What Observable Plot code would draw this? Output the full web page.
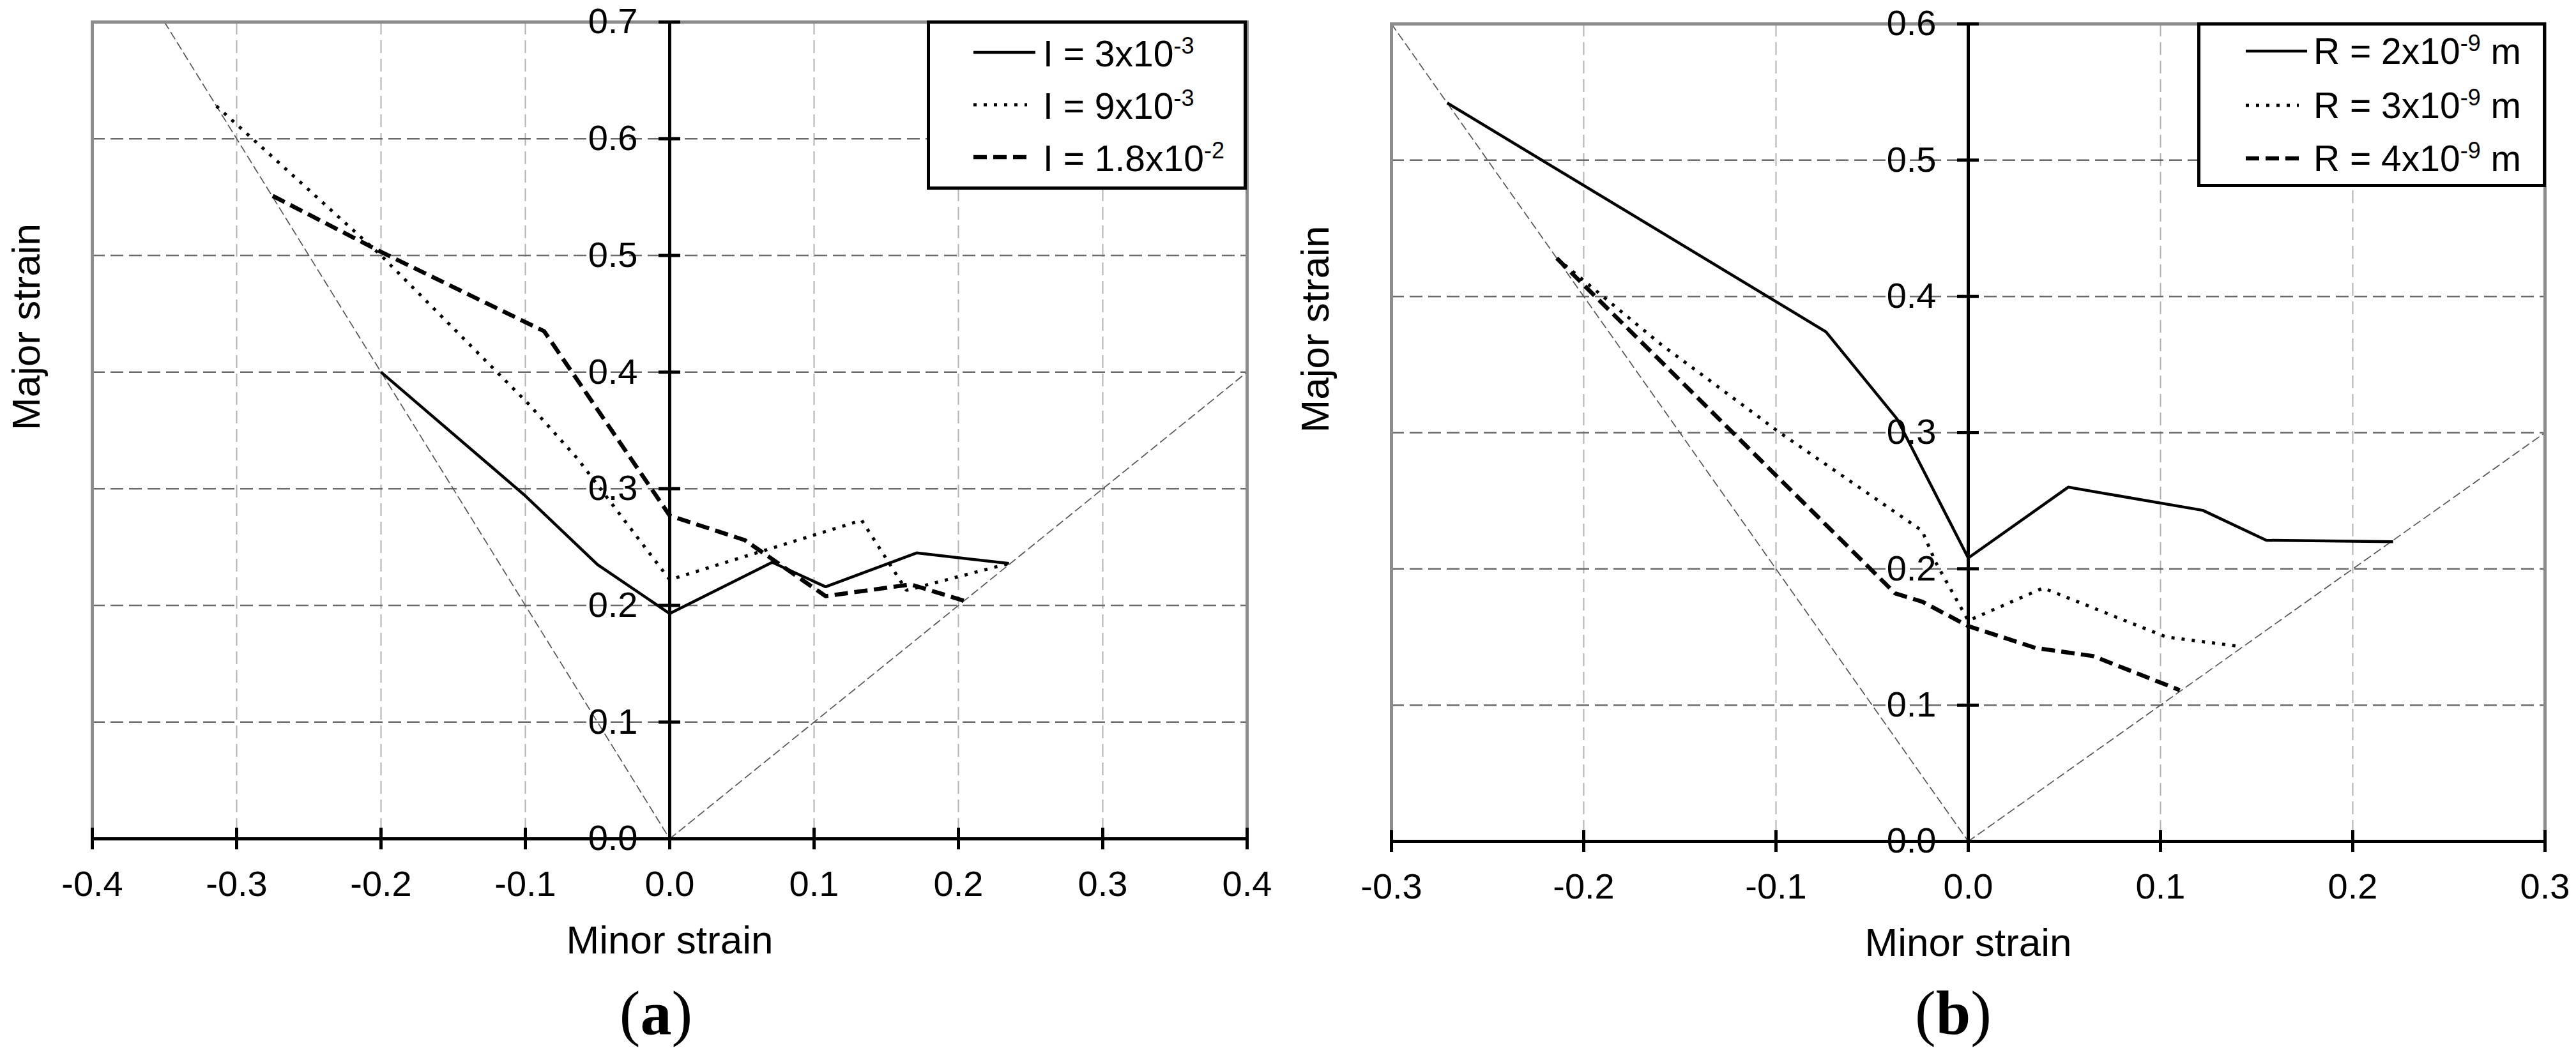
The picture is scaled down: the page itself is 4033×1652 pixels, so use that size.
<!DOCTYPE html>
<html>
<head>
<meta charset="utf-8">
<script src="https://cdn.jsdelivr.net/npm/d3@7"></script>
<script src="https://cdn.jsdelivr.net/npm/@observablehq/plot@0.6"></script>
<style>
  html, body { margin: 0; padding: 0; background: #fff; }
  #wrap { position: relative; width: 4033px; height: 1652px; display: flex; background: #fff; }
  .panel { position: relative; height: 1652px; }
  .cap { position: absolute; width: 400px; text-align: center; font-family: 'Liberation Serif', 'Times New Roman', serif; font-size: 98px; line-height: 98px; color: #000; }
</style>
</head>
<body>
<div id="wrap"></div>
<script>
// ---------- DATA ----------
// Panel (a): forming limit curves for three values of I
const seriesNamesA = ["I = 3x10", "I = 9x10", "I = 1.8x10"];
const seriesExpA = ["-3", "-3", "-2"];
const minorA1 = [-0.200, -0.101, -0.050, 0.000, 0.071, 0.108, 0.171, 0.235];
const majorA1 = [0.400, 0.295, 0.235, 0.193, 0.237, 0.216, 0.245, 0.236];
const minorA2 = [-0.314, -0.200, -0.098, -0.064, 0.000, 0.133, 0.164, 0.235];
const majorA2 = [0.628, 0.500, 0.373, 0.326, 0.222, 0.273, 0.213, 0.236];
const minorA3 = [-0.275, -0.200, -0.087, 0.000, 0.052, 0.108, 0.167, 0.204];
const majorA3 = [0.551, 0.503, 0.435, 0.277, 0.256, 0.208, 0.218, 0.204];

// Panel (b): forming limit curves for three values of R
const seriesNamesB = ["R = 2x10", "R = 3x10", "R = 4x10"];
const seriesExpB = ["-9", "-9", "-9"];
const seriesUnitB = " m";
const minorB1 = [-0.271, -0.074, -0.037, 0.000, 0.052, 0.122, 0.155, 0.221];
const majorB1 = [0.542, 0.374, 0.310, 0.208, 0.260, 0.243, 0.221, 0.220];
const minorB2 = [-0.214, -0.160, -0.098, -0.024, -0.017, 0.000, 0.039, 0.103, 0.142];
const majorB2 = [0.428, 0.365, 0.300, 0.228, 0.205, 0.162, 0.186, 0.150, 0.143];
const minorB3 = [-0.214, -0.038, -0.024, 0.000, 0.035, 0.065, 0.110];
const majorB3 = [0.428, 0.182, 0.176, 0.158, 0.142, 0.136, 0.111];

// Reference strain paths (uniaxial y = -2x, equi-biaxial y = x)
const guideMinorA = [-0.35, 0, 0.4];
const guideMajorA = [0.7, 0, 0.4];
const guideMinorB = [-0.3, 0, 0.3];
const guideMajorB = [0.6, 0, 0.3];

// Ticks
const xTicksA = [-0.4, -0.3, -0.2, -0.1, 0.0, 0.1, 0.2, 0.3, 0.4];
const yTicksA = [0.0, 0.1, 0.2, 0.3, 0.4, 0.5, 0.6, 0.7];
const xTicksB = [-0.3, -0.2, -0.1, 0.0, 0.1, 0.2, 0.3];
const yTicksB = [0.0, 0.1, 0.2, 0.3, 0.4, 0.5, 0.6];

const xLabel = "Minor strain";
const yLabel = "Major strain";
const captions = ["a", "b"];

// ---------- STYLE ----------
const FONT = "'Liberation Sans', Arial, Helvetica, sans-serif";
const lineStyles = [
  {strokeWidth: 4.5},
  {strokeWidth: 5, strokeDasharray: "5,11"},
  {strokeWidth: 6.5, strokeDasharray: "21,10"}
];
const fmt = d => d.toFixed(1);
const zip = (xs, ys) => xs.map((x, i) => ({minor: x, major: ys[i]}));

function guideRows(xs, ys) {
  // two segments: left branch and right branch through the origin
  return [
    {k: "l", minor: xs[0], major: ys[0]}, {k: "l", minor: xs[1], major: ys[1]},
    {k: "r", minor: xs[1], major: ys[1]}, {k: "r", minor: xs[2], major: ys[2]}
  ];
}

function buildPanel(cfg) {
  const el = document.createElement("div");
  el.className = "panel";
  el.style.width = cfg.width + "px";

  const [x0, x1] = cfg.xDomain, [y0, y1] = cfg.yDomain;
  const marks = [
    Plot.ruleX(cfg.xTicks.filter(d => d > x0 + 1e-9 && d < x1 - 1e-9 && Math.abs(d) > 1e-9),
      {x: d => d, stroke: "#b2b2b2", strokeWidth: 2, strokeDasharray: "20,9"}),
    Plot.ruleY(cfg.yTicks.filter(d => d > y0 + 1e-9 && d < y1 - 1e-9),
      {y: d => d, stroke: "#6a6a6a", strokeWidth: 2.5, strokeDasharray: "20,9"}),
    Plot.line(guideRows(cfg.guideX, cfg.guideY),
      {x: "minor", y: "major", z: "k", stroke: "#555", strokeWidth: 1.7, strokeDasharray: "12,7"}),
    Plot.frame({stroke: "#8c8c8c", strokeWidth: 5}),
    ...cfg.series.map((s, i) => Plot.line(s, {x: "minor", y: "major", stroke: "black",
      strokeLinejoin: "miter", strokeLinecap: "butt", ...lineStyles[i]})),
    Plot.ruleY([0], {stroke: "black", strokeWidth: 5}),
    Plot.ruleX([0], {stroke: "black", strokeWidth: 5}),
    Plot.ruleX(cfg.xTicks, {x: d => d, y1: 0, y2: 0, insetTop: -17, insetBottom: -17, stroke: "black", strokeWidth: 5}),
    Plot.ruleY(cfg.yTicks, {y: d => d, x1: 0, x2: 0, insetLeft: -17, insetRight: -17, stroke: "black", strokeWidth: 5}),
    Plot.text(cfg.xTicks, {x: d => d, y: 0, text: fmt, dy: 89, lineAnchor: "bottom", textAnchor: "middle", fontSize: 56, fill: "black"}),
    Plot.text(cfg.yTicks, {x: 0, y: d => d, text: fmt, dx: -50, lineAnchor: "middle", textAnchor: "end", fontSize: 56, fill: "black"}),
    Plot.text([xLabel], {frameAnchor: "bottom", text: d => d, dy: 179, lineAnchor: "bottom", fontSize: 62, fill: "black"}),
    Plot.text([yLabel], {frameAnchor: "left", text: d => d, rotate: -90, dx: cfg.yLabelDx, lineAnchor: "bottom", fontSize: 62, fill: "black"})
  ];

  const svg = Plot.plot({
    width: cfg.width,
    height: 1652,
    marginLeft: cfg.mL, marginRight: cfg.mR, marginTop: cfg.mT, marginBottom: cfg.mB,
    x: {domain: cfg.xDomain, axis: null},
    y: {domain: cfg.yDomain, axis: null},
    style: {fontFamily: FONT, background: "transparent", overflow: "visible", color: "black"},
    marks
  });
  svg.style.position = "absolute";
  svg.style.left = "0px";
  svg.style.top = "0px";
  svg.style.maxWidth = "none";
  el.appendChild(svg);

  // Legend box drawn inside the plot frame (top-right corner)
  const L = cfg.legend;
  const lg = d3.create("svg")
    .attr("width", cfg.width).attr("height", 340)
    .style("position", "absolute").style("left", "0px").style("top", "0px")
    .style("overflow", "visible")
    .attr("font-family", FONT);
  lg.append("rect")
    .attr("x", L.left + 2.5).attr("y", L.top + 2.5)
    .attr("width", L.right - L.left - 5).attr("height", L.bottom - L.top - 5)
    .attr("fill", "white").attr("stroke", "black").attr("stroke-width", 5);
  cfg.names.forEach((name, i) => {
    const st = lineStyles[i];
    lg.append("line")
      .attr("x1", L.sx0).attr("x2", L.sx1[i])
      .attr("y1", L.rowY[i] - L.lineLift).attr("y2", L.rowY[i] - L.lineLift)
      .attr("stroke", "black").attr("stroke-width", st.strokeWidth)
      .attr("stroke-dasharray", st.strokeDasharray || null);
    const t = lg.append("text").attr("x", L.tx).attr("y", L.rowY[i]).attr("font-size", 57).attr("fill", "black");
    t.append("tspan").text(name);
    t.append("tspan").attr("dy", -20).attr("font-size", 36).text(cfg.exps[i]);
    if (cfg.unit) t.append("tspan").attr("dy", 20).attr("font-size", 57).text(cfg.unit);
  });
  el.appendChild(lg.node());

  // Caption (a)/(b)
  const cap = document.createElement("div");
  cap.className = "cap";
  cap.style.left = (cfg.capCenter - 200) + "px";
  cap.style.top = "1537px";
  cap.innerHTML = "(<b>" + cfg.caption + "</b>)";
  el.appendChild(cap);
  return el;
}

const wrap = document.getElementById("wrap");

wrap.appendChild(buildPanel({
  width: 2016, mL: 144, mR: 64, mT: 34, mB: 339,
  xDomain: [-0.4, 0.4], yDomain: [0, 0.7],
  xTicks: xTicksA, yTicks: yTicksA,
  guideX: guideMinorA, guideY: guideMajorA,
  series: [zip(minorA1, majorA1), zip(minorA2, majorA2), zip(minorA3, majorA3)],
  names: seriesNamesA, exps: seriesExpA, unit: "",
  yLabelDx: -83,
  legend: {left: 1451, right: 1952, top: 32, bottom: 297, sx0: 1524, sx1: [1621, 1608, 1608], tx: 1633,
           rowY: [104, 186, 268], lineLift: 22},
  caption: captions[0], capCenter: 1027
}));

wrap.appendChild(buildPanel({
  width: 2017, mL: 162, mR: 49, mT: 37, mB: 335,
  xDomain: [-0.3, 0.3], yDomain: [0, 0.6],
  xTicks: xTicksB, yTicks: yTicksB,
  guideX: guideMinorB, guideY: guideMajorB,
  series: [zip(minorB1, majorB1), zip(minorB2, majorB2), zip(minorB3, majorB3)],
  names: seriesNamesB, exps: seriesExpB, unit: seriesUnitB,
  yLabelDx: -99,
  legend: {left: 1424, right: 1970, top: 35, bottom: 293, sx0: 1500, sx1: [1596, 1583, 1583], tx: 1606,
           rowY: [100, 185, 268], lineLift: 20},
  caption: captions[1], capCenter: 1042
}));
</script>
</body>
</html>
